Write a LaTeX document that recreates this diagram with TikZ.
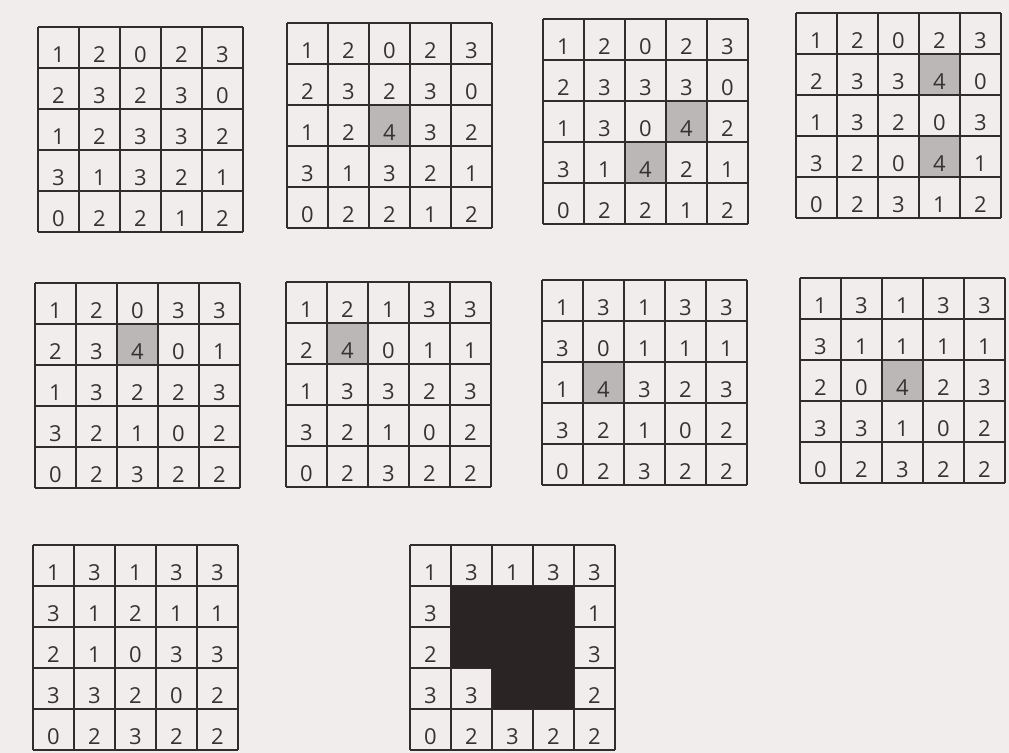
\documentclass[tikz,border=0pt]{standalone}
\usepackage{fontspec}
\setsansfont{Open Sans}
\definecolor{paper}{RGB}{241,237,236}
\definecolor{rule}{RGB}{50,45,45}
\definecolor{ink}{RGB}{55,50,50}
\definecolor{hit}{RGB}{188,183,183}
\definecolor{blot}{RGB}{42,36,36}
\tikzset{
  digit/.style={anchor=base,font=\sffamily\fontsize{12.5}{14}\selectfont,text=ink,inner sep=0pt},
  gridline/.style={draw=rule,line width=0.9pt},
  hitcell/.style={fill=hit},
  panel/.style={x=0.82cm,y=-0.82cm}
}
% #1 panel name, #2 rows of values
\newcommand{\cellgrid}[2]{%
  \foreach \row [count=\r] in {#2} {
    \foreach \v [count=\c] in \row {
      \node[digit] (#1-\r-\c) at (\c-0.5,\r-0.13) {\v};
    }
  }
  \foreach \i in {0,...,5} {
    \draw[gridline] (\i,0) -- (\i,5);
    \draw[gridline] (0,\i) -- (5,\i);
  }
}

\begin{document}
\begin{tikzpicture}[x=0.02cm,y=-0.02cm,line join=round]
\fill[paper] (0,0) rectangle (1009,753);
\useasboundingbox (0,0) rectangle (1009,753);
% --- first row: start and first steps
\begin{scope}[shift={(38,27)},panel]
\cellgrid{a}{{1,2,0,2,3},{2,3,2,3,0},{1,2,3,3,2},{3,1,3,2,1},{0,2,2,1,2}}
\end{scope}
\begin{scope}[shift={(287,23)},panel]
\fill[hitcell] (2,2) rectangle (3,3);
\cellgrid{b}{{1,2,0,2,3},{2,3,2,3,0},{1,2,4,3,2},{3,1,3,2,1},{0,2,2,1,2}}
\end{scope}
\begin{scope}[shift={(543,19)},panel]
\fill[hitcell] (3,2) rectangle (4,3); \fill[hitcell] (2,3) rectangle (3,4);
\cellgrid{c}{{1,2,0,2,3},{2,3,3,3,0},{1,3,0,4,2},{3,1,4,2,1},{0,2,2,1,2}}
\end{scope}
\begin{scope}[shift={(796,13)},panel]
\fill[hitcell] (3,1) rectangle (4,2); \fill[hitcell] (3,3) rectangle (4,4);
\cellgrid{d}{{1,2,0,2,3},{2,3,3,4,0},{1,3,2,0,3},{3,2,0,4,1},{0,2,3,1,2}}
\end{scope}
% --- second row
\begin{scope}[shift={(35,283)},panel]
\fill[hitcell] (2,1) rectangle (3,2);
\cellgrid{e}{{1,2,0,3,3},{2,3,4,0,1},{1,3,2,2,3},{3,2,1,0,2},{0,2,3,2,2}}
\end{scope}
\begin{scope}[shift={(286,282)},panel]
\fill[hitcell] (1,1) rectangle (2,2);
\cellgrid{f}{{1,2,1,3,3},{2,4,0,1,1},{1,3,3,2,3},{3,2,1,0,2},{0,2,3,2,2}}
\end{scope}
\begin{scope}[shift={(542,280)},panel]
\fill[hitcell] (1,2) rectangle (2,3);
\cellgrid{g}{{1,3,1,3,3},{3,0,1,1,1},{1,4,3,2,3},{3,2,1,0,2},{0,2,3,2,2}}
\end{scope}
\begin{scope}[shift={(800,278)},panel]
\fill[hitcell] (2,2) rectangle (3,3);
\cellgrid{h}{{1,3,1,3,3},{3,1,1,1,1},{2,0,4,2,3},{3,3,1,0,2},{0,2,3,2,2}}
\end{scope}
% --- last row: final state and result
\begin{scope}[shift={(33,545)},panel]
\cellgrid{i}{{1,3,1,3,3},{3,1,2,1,1},{2,1,0,3,3},{3,3,2,0,2},{0,2,3,2,2}}
\end{scope}
\begin{scope}[shift={(410,545)},panel]
\cellgrid{j}{{1,3,1,3,3},{3,,,,1},{2,,,,3},{3,3,,,2},{0,2,3,2,2}}
\fill[blot] (1,1) -- (4,1) -- (4,4) -- (2,4) -- (2,3) -- (1,3) -- cycle;
\end{scope}
\end{tikzpicture}
\end{document}
